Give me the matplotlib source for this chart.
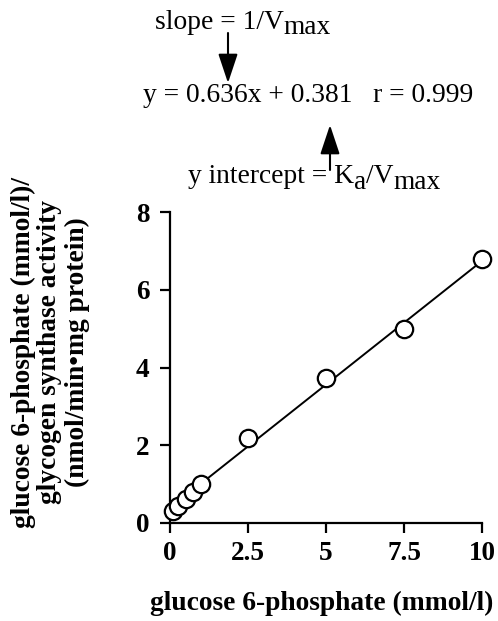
import matplotlib
matplotlib.use("Agg")
import matplotlib.pyplot as plt
from matplotlib.patches import FancyArrowPatch
import numpy as np

# data
g6p = [0.1, 0.25, 0.5, 0.75, 1.0, 2.5, 5.0, 7.5, 10.0]
ratio = [0.30, 0.44, 0.61, 0.80, 1.00, 2.18, 3.74, 5.00, 6.78]
slope = 0.636
intercept = 0.381
xticks = [0, 2.5, 5, 7.5, 10]
xticklabels = ["0", "2.5", "5", "7.5", "10"]
yticks = [0, 2, 4, 6, 8]

plt.rcParams['font.family'] = ['Liberation Serif', 'DejaVu Serif']

W, H = 498, 621
fig = plt.figure(figsize=(W/100, H/100), dpi=100)
ax = fig.add_axes([170/W, 1-523/H, (482-170)/W, (523-212)/H])

xs = np.array([g6p[0], g6p[-1]])
ax.plot(xs, slope*xs + intercept, color='black', lw=1.4, zorder=2)
ax.plot(g6p, ratio, 'o', ms=12.5, mfc='white', mec='black', mew=1.6, zorder=3, clip_on=False)

ax.set_xlim(0, 10)
ax.set_ylim(0, 8)
ax.spines['top'].set_visible(False)
ax.spines['right'].set_visible(False)
ax.spines['left'].set_linewidth(1.6)
ax.spines['bottom'].set_linewidth(1.6)
ax.set_xticks(xticks)
ax.set_xticklabels(xticklabels)
ax.set_yticks(yticks)
ax.tick_params(direction='out', length=7, width=1.6, labelsize=19.5)
ax.tick_params(axis='y', pad=8)
ax.tick_params(axis='x', pad=6)
for lab in ax.get_xticklabels() + ax.get_yticklabels():
    lab.set_fontweight('bold')

fig.text(322/W, 1-610/H, 'glucose 6-phosphate (mmol/l)', fontsize=19.8, fontweight='bold',
         ha='center', va='baseline')
fig.text(50/W, 1-352/H, 'glucose 6-phosphate (mmol/l)/\nglycogen synthase activity\n(nmol/min\u2022mg protein)',
         fontsize=19.8, fontweight='bold', rotation=90, ha='center', va='center',
         multialignment='center', linespacing=1.1)

fs = 19.8
renderer = fig.canvas.get_renderer()


def segments(x_px, base_px, parts):
    x = x_px
    for txt, dy in parts:
        t = fig.text(x/W, 1-(base_px+dy)/H, txt, fontsize=fs, ha='left', va='baseline')
        bb = t.get_window_extent(renderer)
        x += bb.width


segments(155, 29, [('slope = 1/V', 0), ('max', 5)])
fig.text(143/W, 1-102/H, 'y = 0.636x + 0.381   r = 0.999', fontsize=fs, ha='left', va='baseline')
segments(188, 183, [('y intercept = K', 0), ('a', 6), ('/V', 0), ('max', 6)])

style = '-|>,head_length=18,head_width=6'
fig.add_artist(FancyArrowPatch((228/W, 1-33/H), (228/W, 1-83/H), transform=fig.transFigure,
                               arrowstyle=style, color='black', lw=1.5, mutation_scale=1,
                               shrinkA=0, shrinkB=0))
fig.add_artist(FancyArrowPatch((330/W, 1-170/H), (330/W, 1-125/H), transform=fig.transFigure,
                               arrowstyle=style, color='black', lw=1.5, mutation_scale=1,
                               shrinkA=0, shrinkB=0))

fig.savefig('out.png', dpi=100)
